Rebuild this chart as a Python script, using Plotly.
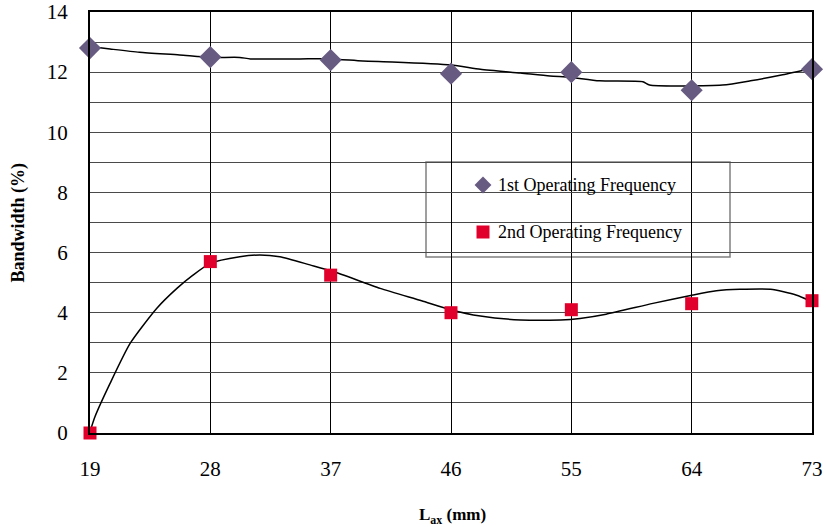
import plotly.graph_objects as go

# Axial length (mm) and measured bandwidths (%)
lax_mm = [19, 28, 37, 46, 55, 64, 73]
bw_first = [12.8, 12.5, 12.4, 11.95, 12.0, 11.4, 12.1]
bw_second = [0.0, 5.7, 5.25, 4.0, 4.1, 4.3, 4.4]

# Trend curves through each series
trend1_x = [19, 20.5, 22.7, 25.7, 28, 30.2, 31, 34.7, 37, 39.4, 41.6, 46, 48.2,
            51.2, 53.4, 54.9, 57.1, 60.35, 60.85, 66.3, 68.4, 70.8, 73]
trend1_y = [12.85, 12.77, 12.66, 12.57, 12.49, 12.49, 12.44, 12.44, 12.44, 12.37,
            12.34, 12.24, 12.1, 11.97, 11.87, 11.83, 11.71, 11.68, 11.57, 11.57,
            11.71, 11.91, 12.13]
trend2_x = [19, 19.37, 20.5, 22.0, 24.0, 25.5, 26.7, 28.0, 30.2, 31.7, 33.2, 35.45,
            37.2, 40.7, 43.8, 45.9, 48.2, 51.2, 54.2, 55.65, 57.6, 61.1, 64.1, 65.85,
            67.6, 69.9, 71.8, 73]
trend2_y = [0.04, 0.54, 1.65, 2.98, 4.15, 4.81, 5.25, 5.64, 5.86, 5.92, 5.86, 5.59,
            5.37, 4.81, 4.40, 4.11, 3.89, 3.76, 3.76, 3.81, 3.95, 4.31, 4.59, 4.73,
            4.78, 4.78, 4.59, 4.37]

series_names = ["1st Operating Frequency", "2nd Operating Frequency"]
y_ticks = [0, 2, 4, 6, 8, 10, 12, 14]
x_ticks = [19, 28, 37, 46, 55, 64, 73]

FONT = "Liberation Serif, Times New Roman, serif"
DIAMOND = "#675B82"
RED = "#E0002B"

fig = go.Figure()
for tx, ty in [(trend1_x, trend1_y), (trend2_x, trend2_y)]:
    fig.add_trace(go.Scatter(x=tx, y=ty, mode="lines",
                             line=dict(color="black", width=1.5, shape="spline",
                                       smoothing=0.6),
                             showlegend=False, hoverinfo="skip"))
fig.add_trace(go.Scatter(x=lax_mm, y=bw_first, mode="markers", name=series_names[0],
                         marker=dict(symbol="diamond", size=17, color=DIAMOND),
                         showlegend=False, cliponaxis=False))
fig.add_trace(go.Scatter(x=lax_mm, y=bw_second, mode="markers", name=series_names[1],
                         marker=dict(symbol="square", size=13, color=RED),
                         showlegend=False, cliponaxis=False))

# Legend box, drawn over the grid but under the legend markers
PW, PH = 722, 421
fig.add_shape(type="rect", xref="paper", yref="paper",
              x0=(426 - 90) / PW, x1=(730 - 90) / PW,
              y0=(433 - 257) / PH, y1=(433 - 162) / PH,
              line=dict(color="#808080", width=1.5), fillcolor="white", layer="between")
leg_x = (483 - 90) / PW
leg_y1 = (433 - 185) / PH
leg_y2 = (433 - 232) / PH
fig.add_trace(go.Scatter(x=[leg_x], y=[leg_y1], xaxis="x2", yaxis="y2", mode="markers",
                         marker=dict(symbol="diamond", size=13, color=DIAMOND),
                         showlegend=False, hoverinfo="skip"))
fig.add_trace(go.Scatter(x=[leg_x], y=[leg_y2], xaxis="x2", yaxis="y2", mode="markers",
                         marker=dict(symbol="square", size=13, color=RED),
                         showlegend=False, hoverinfo="skip"))
for name, yy in zip(series_names, [leg_y1, leg_y2]):
    fig.add_annotation(x=(496 - 90) / PW, y=yy, xref="x2", yref="y2", text=name,
                       showarrow=False, xanchor="left", yanchor="middle",
                       font=dict(family=FONT, size=18, color="black"))

fig.update_layout(
    width=826, height=527,
    margin=dict(l=90, r=14, t=12, b=94),
    paper_bgcolor="white", plot_bgcolor="white",
    showlegend=False,
    xaxis=dict(range=[19, 73], tickvals=x_ticks, ticktext=[str(v) for v in x_ticks],
               showgrid=True, gridcolor="black", gridwidth=1,
               showline=True, linecolor="black", linewidth=2, mirror=True,
               ticks="", ticklabelstandoff=16, zeroline=False, automargin=False,
               tickfont=dict(family=FONT, size=21, color="black")),
    yaxis=dict(range=[0, 14], tickvals=y_ticks, ticktext=[str(v) for v in y_ticks],
               showgrid=True, gridcolor="#4a4a4a", gridwidth=1,
               minor=dict(dtick=1, tick0=0, showgrid=True, gridcolor="#4a4a4a",
                          gridwidth=1, ticks=""),
               showline=True, linecolor="black", linewidth=2, mirror=True,
               ticks="", ticklabelstandoff=16, zeroline=False, automargin=False,
               tickfont=dict(family=FONT, size=21, color="black")),
    xaxis2=dict(range=[0, 1], overlaying="x", visible=False, fixedrange=True,
                automargin=False),
    yaxis2=dict(range=[0, 1], overlaying="y", visible=False, fixedrange=True,
                automargin=False),
)

fig.add_annotation(x=(452 - 90) / PW, y=-83 / PH, xref="paper", yref="paper",
                   text="<b>L<sub>ax</sub> (mm)</b>", showarrow=False,
                   xanchor="center", yanchor="middle",
                   font=dict(family=FONT, size=17, color="black"))
fig.add_annotation(x=-72 / PW, y=0.5, xref="paper", yref="paper",
                   text="<b>Bandwidth (%)</b>", showarrow=False, textangle=-90,
                   xanchor="center", yanchor="middle",
                   font=dict(family=FONT, size=18, color="black"))

fig.write_html("out.html")
